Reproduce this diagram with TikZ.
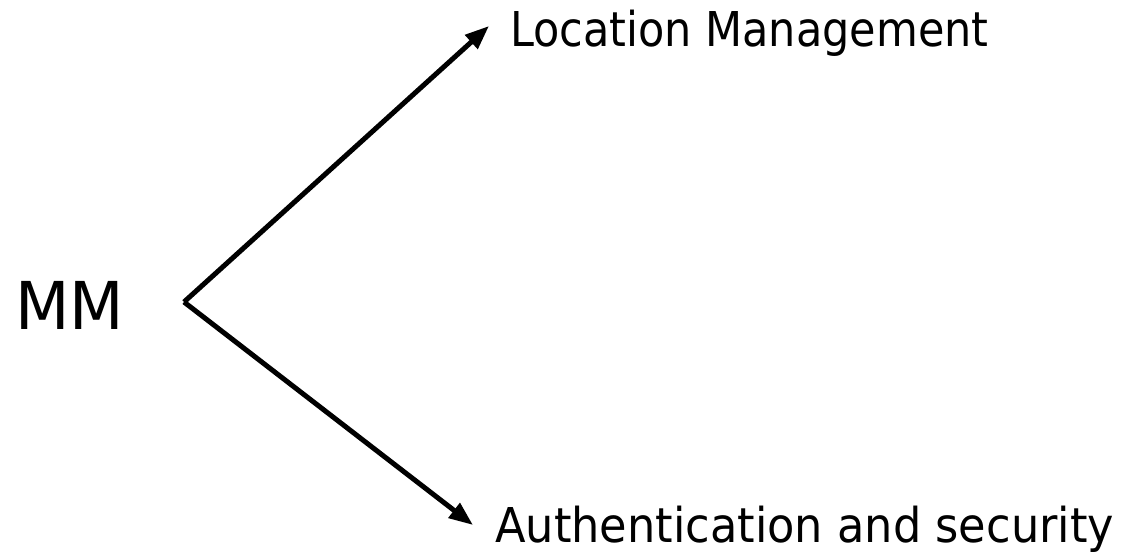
\documentclass[tikz,border=0pt]{standalone}
\usepackage{fontspec}
\setmainfont{DejaVu Sans}
\usetikzlibrary{arrows.meta,calc}
\begin{document}
\begin{tikzpicture}[x=1pt,y=1pt,
  label text/.style={inner sep=0pt,anchor=base west,xscale=0.895,transform shape,font=\fontsize{48}{48}\selectfont},
  big text/.style={inner sep=0pt,anchor=base west,xscale=0.955,transform shape,font=\fontsize{66}{66}\selectfont},
  branch/.style={line width=5pt,-{Triangle[length=24pt,width=18pt]}}]
\useasboundingbox (0,0) rectangle (1121,559);
\node[big text] (mm) at (15,229) {MM};
\node[label text] (loc) at (510,512) {Location Management};
\node[label text,xscale=1.04] (auth) at (495,16) {Authentication and security};
\coordinate (fork) at (184,257);
\coordinate (loctip) at (489,533);
\coordinate (authtip) at (473,34);
\draw[branch] (fork) -- (loctip);
\draw[branch] (fork) -- (authtip);
\end{tikzpicture}
\end{document}
